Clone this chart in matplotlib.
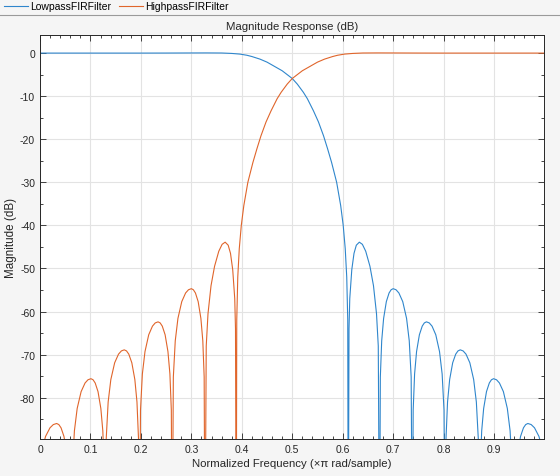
import matplotlib
matplotlib.use("Agg")
import matplotlib.pyplot as plt
from matplotlib.lines import Line2D
from matplotlib.ticker import MultipleLocator

plt.rcParams['font.family'] = ['Liberation Sans', 'DejaVu Sans']
plt.rcParams['axes.unicode_minus'] = False

# Lowpass magnitude response
lp_freq = [0.000, 0.050, 0.100, 0.150, 0.200, 0.250, 0.300, 0.330, 0.360, 0.380,
           0.396, 0.410, 0.420, 0.436, 0.450, 0.462, 0.480, 0.500, 0.510, 0.522,
           0.530, 0.542, 0.552, 0.562, 0.570, 0.578, 0.588, 0.596, 0.601, 0.605,
           0.608, 0.610, 0.611,
           0.6125, 0.614, 0.618, 0.6224, 0.627, 0.633, 0.639, 0.6456, 0.654, 0.661,
           0.667, 0.6705, 0.673,
           0.6746, 0.6773, 0.6811, 0.6865, 0.6919, 0.696, 0.700, 0.7057, 0.7114, 0.719,
           0.7266, 0.7319, 0.7357, 0.738,
           0.7397, 0.7425, 0.7464, 0.752, 0.7576, 0.7618, 0.766, 0.7716, 0.7771, 0.7845,
           0.7919, 0.7971, 0.8008, 0.803,
           0.8048, 0.8078, 0.812, 0.818, 0.824, 0.8285, 0.833, 0.8387, 0.8444, 0.852,
           0.8596, 0.8649, 0.8687, 0.871,
           0.8727, 0.8755, 0.8794, 0.885, 0.8906, 0.8948, 0.899, 0.9049, 0.9107, 0.9185,
           0.9263, 0.9318, 0.9357, 0.938,
           0.9397, 0.9426, 0.9467, 0.9525, 0.9583, 0.9627, 0.967, 0.9736, 0.9802, 0.989,
           0.9978, 1.000]
lp_db = [0.0, 0.0, 0.0, 0.0, 0.0, 0.01, 0.03, 0.04, 0.02, -0.08,
         -0.23, -0.5, -0.8, -1.4, -2.1, -2.9, -4.1, -5.9, -7.2, -9.1,
         -10.6, -13.4, -16.0, -19.2, -22.2, -25.4, -30.0, -35.4, -40.0, -45.4,
         -52.0, -62.0, -120,
         -64.0, -57.0, -50.3, -46.5, -44.6, -43.9, -44.4, -46.0, -49.5, -54.0,
         -60.5, -68.0, -120,
         -75.2, -66.8, -61.6, -57.7, -55.7, -54.95, -54.7, -54.95, -55.7, -57.7,
         -61.6, -66.8, -75.2, -120,
         -82.9, -74.5, -69.3, -65.4, -63.4, -62.65, -62.4, -62.65, -63.4, -65.4,
         -69.3, -74.5, -82.9, -120,
         -89.4, -81.0, -75.8, -71.9, -69.9, -69.15, -68.9, -69.15, -69.9, -71.9,
         -75.8, -81.0, -89.4, -120,
         -96.1, -87.7, -82.5, -78.6, -76.6, -75.85, -75.6, -75.85, -76.6, -78.6,
         -82.5, -87.7, -96.1, -120,
         -106.5, -98.1, -92.9, -89.0, -87.0, -86.25, -86.0, -86.25, -87.0, -89.0,
         -92.9, -94.3]

# Highpass magnitude response
hp_freq = [0.000, 0.0022, 0.011, 0.0198, 0.0264, 0.033, 0.0373, 0.0417, 0.0475, 0.0533,
           0.0574, 0.0603, 0.062,
           0.0643, 0.0682, 0.0737, 0.0815, 0.0893, 0.0951, 0.101, 0.1052, 0.1094, 0.115,
           0.1206, 0.1245, 0.1273, 0.129,
           0.1313, 0.1351, 0.1404, 0.148, 0.1556, 0.1613, 0.167, 0.1715, 0.176, 0.182,
           0.188, 0.1922, 0.1952, 0.197,
           0.1992, 0.2029, 0.2081, 0.2155, 0.2229, 0.2284, 0.234, 0.2382, 0.2424, 0.248,
           0.2536, 0.2575, 0.2603, 0.262,
           0.2643, 0.2681, 0.2734, 0.281, 0.2886, 0.2943, 0.300, 0.304, 0.3081, 0.3135,
           0.3189, 0.3227, 0.3254, 0.327,
           0.3295, 0.333, 0.339, 0.346, 0.3544, 0.361, 0.367, 0.373, 0.3776, 0.382,
           0.386, 0.3875, 0.389,
           0.390, 0.392, 0.395, 0.399, 0.404, 0.412, 0.422, 0.430, 0.438, 0.448,
           0.458, 0.470, 0.478, 0.490, 0.500, 0.520, 0.538, 0.550, 0.564, 0.580,
           0.590, 0.604, 0.620, 0.640, 0.670, 0.700, 0.750, 0.800, 0.850, 0.900,
           0.950, 1.000]
hp_db = [-94.3, -92.9, -89.0, -87.0, -86.25, -86.0, -86.25, -87.0, -89.0, -92.9,
         -98.1, -106.5, -120,
         -96.1, -87.7, -82.5, -78.6, -76.6, -75.85, -75.6, -75.85, -76.6, -78.6,
         -82.5, -87.7, -96.1, -120,
         -89.4, -81.0, -75.8, -71.9, -69.9, -69.15, -68.9, -69.15, -69.9, -71.9,
         -75.8, -81.0, -89.4, -120,
         -82.9, -74.5, -69.3, -65.4, -63.4, -62.65, -62.4, -62.65, -63.4, -65.4,
         -69.3, -74.5, -82.9, -120,
         -75.2, -66.8, -61.6, -57.7, -55.7, -54.95, -54.7, -54.95, -55.7, -57.7,
         -61.6, -66.8, -75.2, -120,
         -68.0, -60.5, -54.0, -49.5, -46.0, -44.4, -43.9, -44.6, -46.5, -50.3,
         -57.0, -64.0, -120,
         -62.0, -52.0, -45.4, -40.0, -35.4, -30.0, -25.4, -22.2, -19.2, -16.0,
         -13.4, -10.6, -9.1, -7.2, -5.9, -4.1, -2.9, -2.1, -1.4, -0.8,
         -0.5, -0.23, -0.08, 0.02, 0.04, 0.03, 0.01, 0.0, 0.0, 0.0,
         0.0, 0.0]

x_ticks = [0, 0.1, 0.2, 0.3, 0.4, 0.5, 0.6, 0.7, 0.8, 0.9]
x_tick_labels = ['0', '0.1', '0.2', '0.3', '0.4', '0.5', '0.6', '0.7', '0.8', '0.9']
y_ticks = [0, -10, -20, -30, -40, -50, -60, -70, -80]
names = ['LowpassFIRFilter', 'HighpassFIRFilter']

txt = '#262626'
fig = plt.figure(figsize=(5.6, 4.77), dpi=100, facecolor='#f5f5f5')
ax = fig.add_axes([40 / 560, 37 / 477, 504 / 560, 404 / 477])
ax.set_facecolor('white')

l1, = ax.plot(lp_freq, lp_db, color='#2f86cc', lw=0.8)
l2, = ax.plot(hp_freq, hp_db, color='#e0652b', lw=0.8)

ax.set_xlim(0, 0.999)
ax.set_ylim(-89.6, 4.2)
ax.set_xticks(x_ticks)
ax.set_xticklabels(x_tick_labels)
ax.set_yticks(y_ticks)
ax.xaxis.set_minor_locator(MultipleLocator(0.02))
ax.yaxis.set_minor_locator(MultipleLocator(5))
ax.tick_params(which='both', direction='in', top=True, right=True, colors=txt,
               labelsize=7.5, width=0.6)
ax.tick_params(which='major', length=4)
ax.tick_params(which='minor', length=2)
ax.grid(True, which='major', color='#e3e3e3', lw=0.8)
ax.set_axisbelow(True)
for s in ax.spines.values():
    s.set_color(txt)
    s.set_linewidth(0.7)

ax.set_title('Magnitude Response (dB)', fontsize=8.2, color=txt, pad=4)
ax.set_xlabel('Normalized Frequency (\u00d7\u03c0 rad/sample)', fontsize=8.2, color=txt, labelpad=3)
ax.set_ylabel('Magnitude (dB)', fontsize=8.4, color=txt, labelpad=2)

fig.legend([l1, l2], names, loc='upper left', bbox_to_anchor=(-0.004, 1.008), ncol=2,
           frameon=False, fontsize=7.5, handlelength=2.3, handletextpad=0.2,
           columnspacing=0.8, borderaxespad=0.2)
fig.add_artist(Line2D([0, 1], [1 - 16 / 477, 1 - 16 / 477], transform=fig.transFigure,
                      color='#9a9a9a', lw=0.8))

fig.savefig('out.png', dpi=100, facecolor=fig.get_facecolor())
